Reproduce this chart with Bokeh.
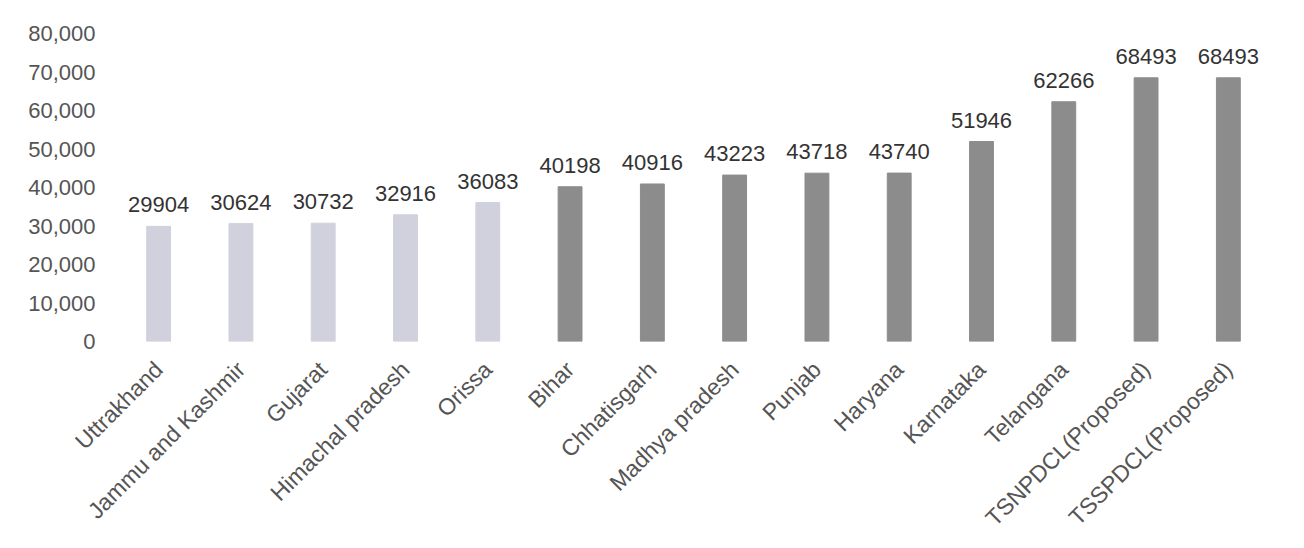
import math
from bokeh.plotting import figure
from bokeh.models import ColumnDataSource, NumeralTickFormatter, LabelSet, FixedTicker
from bokeh.core.properties import value
from bokeh.embed import file_html
from bokeh.resources import INLINE

states = ["Uttrakhand", "Jammu and Kashmir", "Gujarat", "Himachal pradesh", "Orissa",
          "Bihar", "Chhatisgarh", "Madhya pradesh", "Punjab", "Haryana", "Karnataka",
          "Telangana", "TSNPDCL(Proposed)", "TSSPDCL(Proposed)"]
values = [29904, 30624, 30732, 32916, 36083, 40198, 40916, 43223, 43718, 43740,
          51946, 62266, 68493, 68493]
light_count = 5
colors = ["#d0d1dc"] * light_count + ["#8c8c8c"] * (len(states) - light_count)
y_ticks = [0, 10000, 20000, 30000, 40000, 50000, 60000, 70000, 80000]

src = ColumnDataSource(dict(x=states, top=values, color=colors,
                            label=[str(v) for v in values]))

p = figure(x_range=states, y_range=(0, 80000), width=1288, height=545,
           output_backend="svg", toolbar_location=None,
           min_border_left=117, min_border_top=33, min_border_right=19,
           min_border_bottom=204,
           outline_line_color=None, background_fill_color="white")

p.vbar(x="x", top="top", width=0.29, color="color", source=src)

labels = LabelSet(x="x", y="top", text="label", source=src, text_align="center",
                  text_baseline="bottom", y_offset=14,
                  text_font=value("Liberation Sans"),
                  text_font_size=value("22px"), text_color=value("#333333"))
p.add_layout(labels)

p.xgrid.grid_line_color = None
p.ygrid.grid_line_color = None

p.yaxis.ticker = FixedTicker(ticks=y_ticks)
p.yaxis.formatter = NumeralTickFormatter(format="0,0")
p.yaxis.axis_line_color = None
p.yaxis.major_tick_line_color = None
p.yaxis.minor_tick_line_color = None
p.yaxis.major_label_text_font = "Liberation Sans"
p.yaxis.major_label_text_font_size = "22px"
p.yaxis.major_label_text_color = "#555555"
p.yaxis.major_label_standoff = 16

p.xaxis.axis_line_color = None
p.xaxis.major_tick_line_color = None
p.xaxis.major_label_orientation = math.pi / 4
p.xaxis.major_label_text_font = "Liberation Sans"
p.xaxis.major_label_text_font_size = "23px"
p.xaxis.major_label_text_color = "#555555"
p.xaxis.major_label_standoff = 18

open("out.html", "w").write(file_html(p, INLINE))
